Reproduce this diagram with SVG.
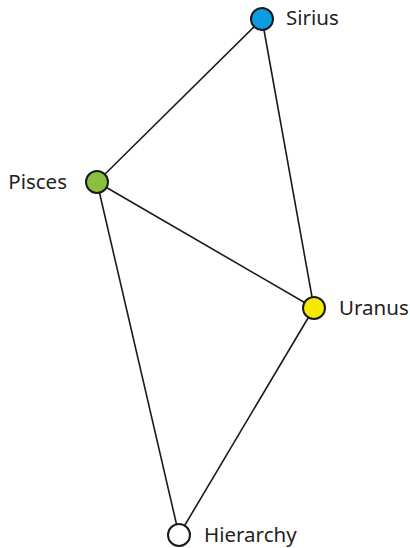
<svg xmlns="http://www.w3.org/2000/svg" width="410" height="548" viewBox="0 0 410 548">
<style>
.edge{stroke:#1a1a1a;stroke-width:1.6;fill:none}
.node circle{stroke:#1a1a1a;stroke-width:2}
.node text{font-family:"Noto Sans","Open Sans",sans-serif;font-size:20.5px;fill:#231f20}
</style>
<rect width="410" height="548" fill="#ffffff"/>
<g id="connectors">
<line class="edge" x1="262" y1="19" x2="97" y2="182"/>
<line class="edge" x1="262" y1="19" x2="314" y2="308"/>
<line class="edge" x1="97" y1="182" x2="314" y2="308"/>
<line class="edge" x1="97" y1="182" x2="179" y2="535"/>
<line class="edge" x1="314" y1="308" x2="179" y2="535"/>
</g>
<g id="node-sirius" class="node"><circle cx="262" cy="19" r="11" fill="#0a9ee0"/><text x="286" y="25">Sirius</text></g>
<g id="node-pisces" class="node"><circle cx="97" cy="182" r="11" fill="#8ac040"/><text x="67" y="189" text-anchor="end">Pisces</text></g>
<g id="node-uranus" class="node"><circle cx="314" cy="308" r="11" fill="#f6ea00"/><text x="339" y="315">Uranus</text></g>
<g id="node-hierarchy" class="node"><circle cx="179" cy="535" r="11" fill="#ffffff"/><text x="204" y="542">Hierarchy</text></g>
</svg>
